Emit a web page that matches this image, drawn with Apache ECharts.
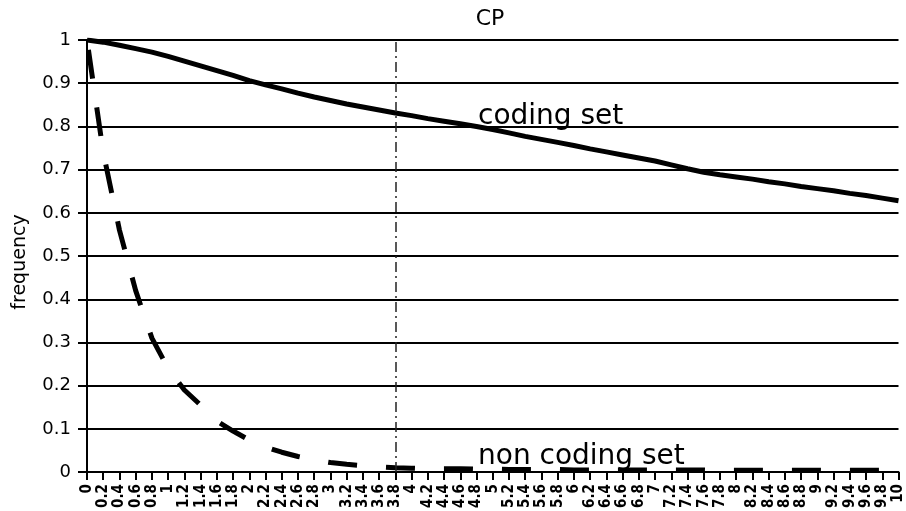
<!DOCTYPE html>
<html>
<head>
<meta charset="utf-8">
<script src="https://cdn.jsdelivr.net/npm/echarts@6/dist/echarts.min.js"></script>
<style>
html,body{margin:0;padding:0;background:#fff;}
#main{width:906px;height:511px;}
</style>
</head>
<body>
<div id="main"></div>
<script>
var categories = ['0','0.2','0.4','0.6','0.8','1','1.2','1.4','1.6','1.8','2','2.2','2.4','2.6','2.8','3','3.2','3.4','3.6','3.8','4','4.2','4.4','4.6','4.8','5','5.2','5.4','5.6','5.8','6','6.2','6.4','6.6','6.8','7','7.2','7.4','7.6','7.8','8','8.2','8.4','8.6','8.8','9','9.2','9.4','9.6','9.8','10'];
var codingSet = [1.0,0.995,0.988,0.98,0.972,0.962,0.951,0.94,0.929,0.918,0.906,0.896,0.887,0.877,0.868,0.86,0.852,0.845,0.838,0.831,0.825,0.818,0.812,0.806,0.8,0.793,0.785,0.777,0.77,0.763,0.756,0.748,0.741,0.734,0.727,0.72,0.711,0.702,0.694,0.688,0.683,0.678,0.672,0.667,0.661,0.656,0.651,0.645,0.64,0.634,0.628];
var nonCodingSet = [1.0,0.74,0.56,0.42,0.31,0.24,0.19,0.155,0.118,0.095,0.074,0.058,0.046,0.036,0.028,0.022,0.018,0.015,0.012,0.01,0.009,0.008,0.008,0.008,0.007,0.007,0.006,0.006,0.006,0.006,0.005,0.005,0.005,0.005,0.005,0.005,0.005,0.005,0.005,0.004,0.004,0.004,0.004,0.004,0.004,0.004,0.004,0.004,0.004,0.004,0.004];
var markerX = '3.8';
var yTicks = {min: 0, max: 1, interval: 0.1};

var chart = echarts.init(document.getElementById('main'), null, {renderer: 'canvas'});
var font = 'DejaVu Sans';
chart.setOption({
  backgroundColor: '#fff',
  animation: false,
  grid: {left: 87, right: 6, top: 40, bottom: 36, containLabel: false},
  xAxis: {
    type: 'category',
    data: categories,
    boundaryGap: false,
    axisLine: {lineStyle: {color: '#000', width: 2}},
    axisTick: {show: true, length: 8, interval: 0, lineStyle: {color: '#000', width: 2}},
    axisLabel: {interval: 0, rotate: 90, margin: 12, hideOverlap: false, color: '#000', fontFamily: 'DejaVu Sans Condensed', fontSize: 15, fontWeight: 'bold'},
    splitLine: {show: false}
  },
  yAxis: {
    type: 'value',
    min: yTicks.min, max: yTicks.max, interval: yTicks.interval,
    axisLine: {show: true, lineStyle: {color: '#000', width: 2}},
    axisTick: {show: true, length: 9, lineStyle: {color: '#000', width: 2}},
    axisLabel: {margin: 16, color: '#000', fontFamily: font, fontSize: 18,
      formatter: function (v) { return (Math.round(v * 10) / 10).toString(); }},
    splitLine: {show: true, lineStyle: {color: '#000', width: 2}}
  },
  graphic: [
    {type: 'text', x: 490, y: 19, style: {text: 'CP', font: '22px "DejaVu Sans"', fill: '#000', align: 'center', verticalAlign: 'middle'}},
    {type: 'text', x: 20, y: 262, rotation: Math.PI / 2, style: {text: 'frequency', font: '19px "DejaVu Sans"', fill: '#000', align: 'center', verticalAlign: 'middle'}},
    {type: 'text', x: 478, y: 117, style: {text: 'coding set', font: '28px "DejaVu Sans"', fill: '#000', align: 'left', verticalAlign: 'middle'}},
    {type: 'text', x: 478, y: 457, style: {text: 'non coding set', font: '28px "DejaVu Sans"', fill: '#000', align: 'left', verticalAlign: 'middle'}}
  ],
  series: [
    {
      name: 'coding set', type: 'line', data: codingSet, showSymbol: false, symbol: 'none',
      lineStyle: {color: '#000', width: 5, type: 'solid'}, z: 3,
      markLine: {
        silent: true, symbol: ['none', 'none'], label: {show: false},
        lineStyle: {color: '#222', width: 1.5, type: [10, 4, 2, 4]},
        data: [{xAxis: markerX}]
      }
    },
    {
      name: 'non coding set', type: 'line', data: nonCodingSet, showSymbol: false, symbol: 'none',
      lineStyle: {color: '#000', width: 5, type: [29, 29], dashOffset: 48}, z: 3
    }
  ]
});
</script>
</body>
</html>
